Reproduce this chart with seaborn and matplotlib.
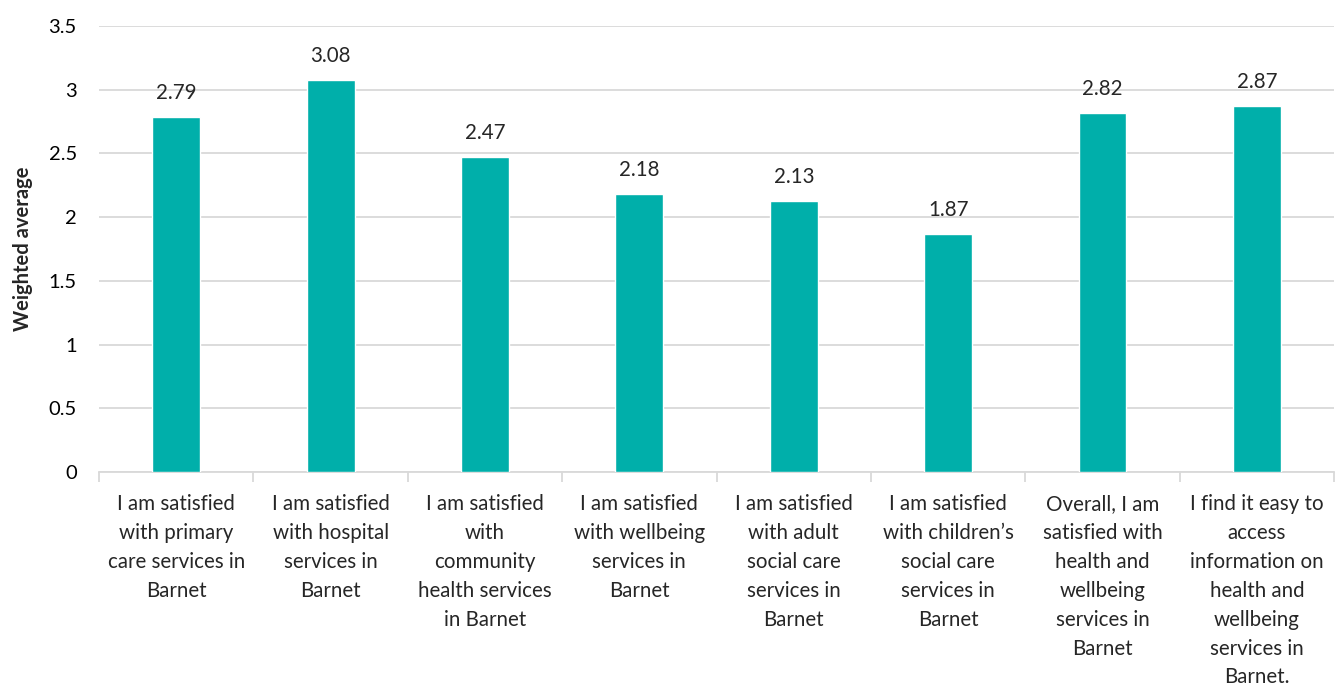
import matplotlib
matplotlib.use("Agg")
import matplotlib.pyplot as plt
import seaborn as sns
import pandas as pd
import numpy as np
from matplotlib.ticker import FixedLocator

categories = [
    "I am satisfied\nwith primary\ncare services in\nBarnet",
    "I am satisfied\nwith hospital\nservices in\nBarnet",
    "I am satisfied\nwith\ncommunity\nhealth services\nin Barnet",
    "I am satisfied\nwith wellbeing\nservices in\nBarnet",
    "I am satisfied\nwith adult\nsocial care\nservices in\nBarnet",
    "I am satisfied\nwith children\u2019s\nsocial care\nservices in\nBarnet",
    "Overall, I am\nsatisfied with\nhealth and\nwellbeing\nservices in\nBarnet",
    "I find it easy to\naccess\ninformation on\nhealth and\nwellbeing\nservices in\nBarnet.",
]
values = [2.79, 3.08, 2.47, 2.18, 2.13, 1.87, 2.82, 2.87]
yticks = [0, 0.5, 1, 1.5, 2, 2.5, 3, 3.5]
ytick_labels = ["0", "0.5", "1", "1.5", "2", "2.5", "3", "3.5"]

sns.set_theme(style="white")
plt.rcParams['font.family'] = ['Lato', 'DejaVu Sans']

df = pd.DataFrame({"cat": categories, "val": values})
fig = plt.figure(figsize=(13.36, 6.86), dpi=100)
ax = fig.add_axes([0.0741, 0.312, 0.9245, 0.650])

sns.barplot(data=df, x="cat", y="val", color="#00AFAA", width=0.31,
            saturation=1, ax=ax, zorder=3)

ax.set_ylim(0, 3.5)
ax.set_xlim(-0.5, len(categories) - 0.5)
ax.set_yticks(yticks)
ax.set_yticklabels(ytick_labels, fontsize=14.5)
ax.yaxis.grid(True, color="#D9D9D9", linewidth=1.3, zorder=0)
ax.set_axisbelow(True)

for s in ["top", "right", "left"]:
    ax.spines[s].set_visible(False)
ax.spines["bottom"].set_color("#D9D9D9")
ax.spines["bottom"].set_linewidth(1.3)

ax.set_xlabel("")
ax.set_ylabel("Weighted average", fontsize=14.5, fontweight="bold", labelpad=11)
ax.tick_params(axis="y", length=0, pad=16, labelcolor="black")
ax.tick_params(axis="x", which="major", length=0, pad=16, labelsize=14.8)
ax.set_xticks(range(len(categories)))
ax.set_xticklabels(categories, linespacing=1.555, ha="center", va="top")
ax.xaxis.set_minor_locator(FixedLocator(np.arange(-0.5, len(categories), 1.0)))
ax.tick_params(axis="x", which="minor", length=7, width=1.3, color="#D9D9D9", bottom=True)

for i, v in enumerate(values):
    ax.text(i, v + 0.11, f"{v:.2f}", ha="center", va="bottom", fontsize=14.8)

fig.savefig("out.png", dpi=100)
